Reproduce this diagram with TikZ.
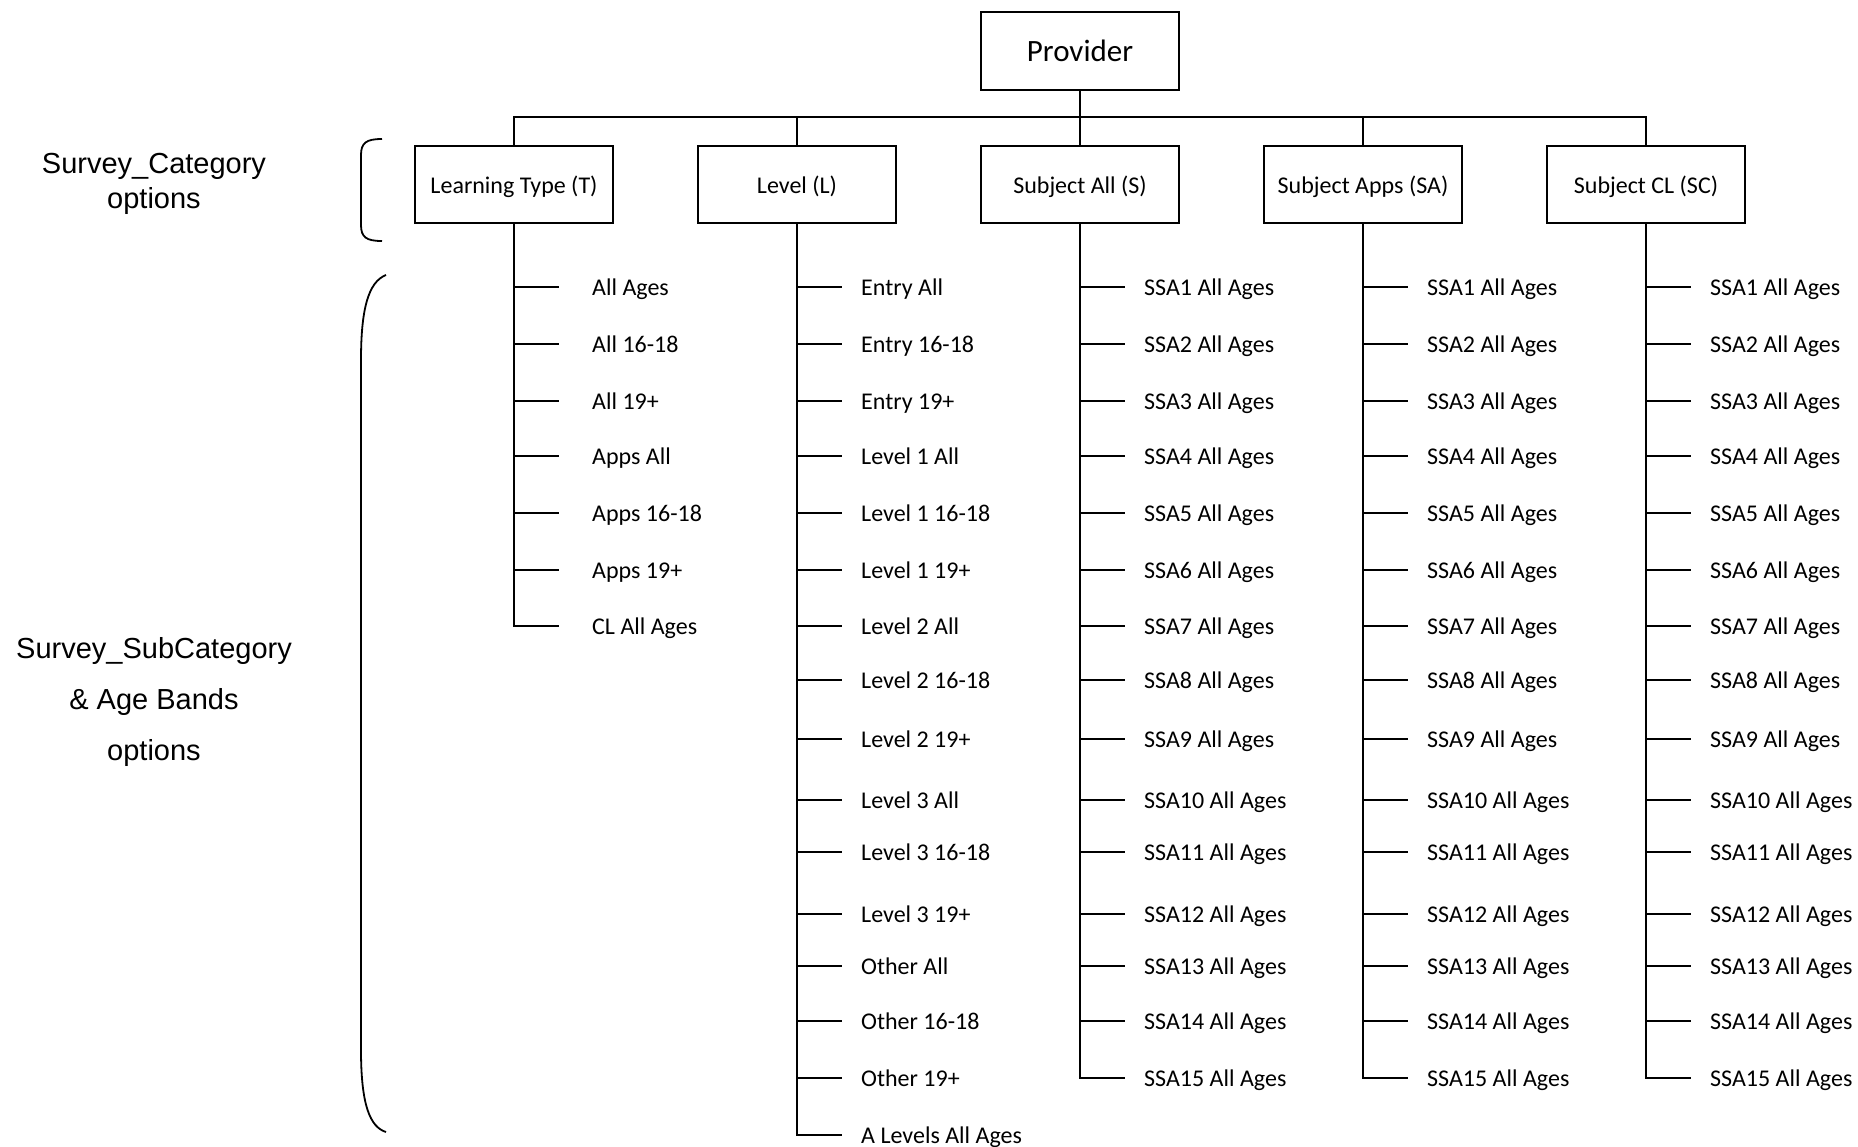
\documentclass[tikz,border=0pt]{standalone}
\usepackage{fontspec}
\setmainfont{Carlito}
\newfontfamily\arialfont{Liberation Sans}
\usetikzlibrary{positioning}

\tikzset{
  catbox/.style={draw, line width=2.8pt, minimum width=198pt, minimum height=77pt,
                 inner sep=0pt, text depth=0pt, font=\fontsize{24}{28}\selectfont},
  item/.style={anchor=base west, inner sep=0pt, font=\fontsize{24}{28}\selectfont},
  link/.style={line width=2.8pt, line cap=rect},
  sidenote/.style={align=center, font=\arialfont\fontsize{29}{35}\selectfont},
  brace/.style={line width=1.8pt}
}

\begin{document}
\begin{tikzpicture}[x=1pt, y=-1pt]
\useasboundingbox (0,0) rectangle (1858,1146);

% boxes
\node[catbox, minimum height=78pt, font=\fontsize{31}{36}\selectfont] (prov) at (1080,51) {Provider};
\node[catbox] (lt)  at (514,184.5)  {Learning Type (T)};
\node[catbox] (lvl) at (797,184.5)  {Level (L)};
\node[catbox] (sa)  at (1080,184.5) {Subject All (S)};
\node[catbox] (sap) at (1363,184.5) {Subject Apps (SA)};
\node[catbox] (scl) at (1646,184.5) {Subject CL (SC)};

% bus
\coordinate (bus) at (0,117);
\draw[link] (lt.north) -- (lt.north |- bus) -| (scl.north);
\draw[link] (prov.south) -- (prov.south |- bus);
\foreach \b in {lvl,sa,sap}
  \draw[link] (\b.north) -- (\b.north |- bus);

\def\rowy{{287,344,401,456,513,570,626,680,739,800,852,914,966,1021,1078,1135}}

% learning type
\foreach \txt [count=\i] in {All Ages, All 16-18, All 19+, Apps All, Apps 16-18, Apps 19+, CL All Ages}{
  \pgfmathsetmacro\yy{\rowy[\i-1]}
  \node[item] (lt-\i) at (592,\yy+8) {\txt};
  \draw[link] (lt.south |- 0,\yy) -- ++(44,0);
}
\draw[link] (lt.south) -- (lt.south |- 0,626);

% level
\foreach \txt [count=\i] in {Entry All, Entry 16-18, Entry 19+, Level 1 All, Level 1 16-18, Level 1 19+,
    Level 2 All, Level 2 16-18, Level 2 19+, Level 3 All, Level 3 16-18, Level 3 19+,
    Other All, Other 16-18, Other 19+, A Levels All Ages}{
  \pgfmathsetmacro\yy{\rowy[\i-1]}
  \node[item] (lvl-\i) at (861,\yy+8) {\txt};
  \draw[link] (lvl.south |- 0,\yy) -- ++(44,0);
}
\draw[link] (lvl.south) -- (lvl.south |- 0,1135);

% subject columns
\foreach \b in {sa,sap,scl}{
  \foreach \i in {1,...,15}{
    \pgfmathsetmacro\yy{\rowy[\i-1]}
    \node[item] (\b-\i) at ([xshift=64pt]\b.south |- 0,\yy+8) {SSA\i{} All Ages};
    \draw[link] (\b.south |- 0,\yy) -- ++(44,0);
  }
  \draw[link] (\b.south) -- (\b.south |- 0,1078);
}

% left side
\node[sidenote] (catnote) at (154,184) {Survey\_Category\\options};
\node[sidenote, font=\arialfont\fontsize{29}{51}\selectfont] (subnote) at (154,702) {Survey\_SubCategory\\\& Age Bands\\options};
\draw[brace] (382,139) .. controls (366,139) and (361,143) .. (361,155) -- (361,225)
   .. controls (361,237) and (366,241) .. (382,241);
\draw[brace] (386,275) .. controls (368,282) and (361,310) .. (361,360) -- (361,1050)
   .. controls (361,1105) and (370,1127) .. (386,1132);
\end{tikzpicture}
\end{document}
